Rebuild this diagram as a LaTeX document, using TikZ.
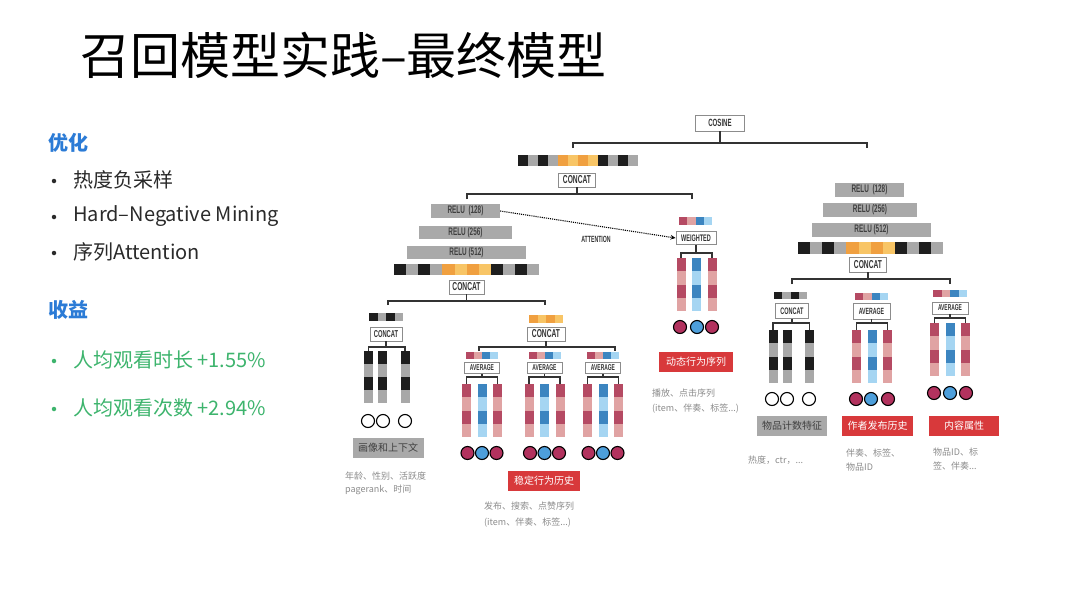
\documentclass[tikz,border=0pt]{standalone}
\usepackage{fontspec}
\setmainfont{Noto Sans CJK SC}
\newfontfamily\cjk{Noto Sans CJK SC}
\newfontfamily\condf[FakeStretch=0.58]{Liberation Sans}
\usetikzlibrary{arrows.meta,calc}
\definecolor{blk}{HTML}{1E1E1E}
\definecolor{gry}{HTML}{A8A8A8}
\definecolor{org}{HTML}{F0A040}
\definecolor{lor}{HTML}{F8C566}
\definecolor{dred}{HTML}{B54A63}
\definecolor{pnk}{HTML}{E0A3A3}
\definecolor{dblu}{HTML}{3C85C0}
\definecolor{lblu}{HTML}{A5D5F2}
\definecolor{crim}{HTML}{B2325E}
\definecolor{cblu}{HTML}{4D9FDB}
\definecolor{redlab}{HTML}{D8393B}
\definecolor{relug}{HTML}{A9A9A9}
\definecolor{ttlblue}{HTML}{2B7BD6}
\definecolor{grn}{HTML}{3DB46D}
\definecolor{txtg}{HTML}{8C8C8C}
\definecolor{bodyt}{HTML}{2A2A2A}
% horizontal segmented bar: x left, y top, seg width, height, colours
\newcommand{\segbar}[5]{\foreach \cc [count=\ii from 0] in {#5}{\fill[\cc] ({#1+\ii*#3},#2) rectangle ++(#3,#4);}}
% vertical segmented column: x centre, y top, width, seg height, colours
\newcommand{\segcol}[5]{\foreach \cc [count=\ii from 0] in {#5}{\fill[\cc] ({#1-#3/2},{#2+\ii*#4}) rectangle ++(#3,#4);}}
% bracket below a parent node: parent, y line, x left, x right, y end
\newcommand{\brkt}[5]{%
  \coordinate (#1-L) at (#3,#5); \coordinate (#1-R) at (#4,#5);
  \draw[brk] (#1-L) -- (#3,#2) -- (#4,#2) -- (#1-R);
  \draw[brk] (#1.south) -- (#1.south |- #3,#2);}
\begin{document}
\begin{tikzpicture}[x=1pt,y=-1pt,
  box/.style={draw=black!45,line width=0.8pt,fill=white,inner sep=0pt,minimum height=14pt,
     font=\condf\bfseries\fontsize{11.5}{11.5}\selectfont,text=black!80},
  relu/.style={fill=relug,inner sep=0pt,minimum height=14pt,
     font=\condf\bfseries\fontsize{11}{11}\selectfont,text=black!75},
  redl/.style={fill=redlab,text=white,inner sep=0pt,minimum width=72pt,minimum height=20pt,
     font=\cjk\fontsize{10}{10}\selectfont},
  grayl/.style={fill=relug,text=black!75,inner sep=0pt,minimum width=71pt,minimum height=20pt,
     font=\cjk\fontsize{10}{10}\selectfont},
  note/.style={text=txtg,font=\cjk\fontsize{9}{14}\selectfont,align=left,anchor=north west,inner sep=0pt},
  brk/.style={draw=black!80,line width=1.1pt},
  circr/.style={circle,draw=black,line width=1.1pt,minimum size=13pt,inner sep=0pt,fill=crim},
  circb/.style={circle,draw=black,line width=1.1pt,minimum size=13pt,inner sep=0pt,fill=cblu},
  circw/.style={circle,draw=black,line width=1.1pt,minimum size=13pt,inner sep=0pt,fill=white},
  dotb/.style={circle,fill=bodyt,inner sep=0pt,minimum size=4.5pt},
  dotg/.style={circle,fill=grn,inner sep=0pt,minimum size=4.5pt},
  lefttxt/.style={anchor=west,inner sep=0pt,font=\cjk\fontsize{20}{22}\selectfont,text=bodyt},
  head/.style={anchor=west,inner sep=0pt,font=\cjk\bfseries\fontsize{20}{22}\selectfont,text=ttlblue},
  gtxt/.style={anchor=west,inner sep=0pt,font=\cjk\fontsize{20}{22}\selectfont,text=grn}]
\useasboundingbox[fill=white] (0,0) rectangle (1080,608);

% ---------- title & left text ----------
\node[anchor=west,inner sep=0pt,font=\cjk\fontsize{50}{52}\selectfont] (title) at (80,55) {召回模型实践–最终模型};
\node[head] (h1) at (48,143) {优化};
\node[dotb] (b1) at (54,181) {};
\node[lefttxt] (t1) at (73,180) {热度负采样};
\node[dotb] (b2) at (54,217) {};
\node[lefttxt] (t2) at (73,216) {Hard–Negative Mining};
\node[dotb] (b3) at (54,253) {};
\node[lefttxt] (t3) at (73,252) {序列Attention};
\node[head] (h2) at (48,310) {收益};
\node[dotg] (b4) at (54,361) {};
\node[gtxt] (t4) at (73,360) {人均观看时长 +1.55\%};
\node[dotg] (b5) at (54,409) {};
\node[gtxt] (t5) at (73,408) {人均观看次数 +2.94\%};

% ---------- top ----------
\node[box,minimum width=49pt,minimum height=16pt,font=\condf\bfseries\fontsize{10.5}{10.5}\selectfont] (cosine) at (720,123) {COSINE};
\brkt{cosine}{143}{573}{867}{148}
\segbar{518}{155}{10}{11}{blk,gry,blk,gry,org,lor,org,lor,blk,gry,blk,gry}
\node[box,minimum width=37pt] (concat0) at (577,180) {CONCAT};
\brkt{concat0}{194}{467}{692}{199}

% ---------- left tower ----------
\node[relu,minimum width=69pt] (r128) at (465.5,211) {RELU~~(128)};
\node[relu,minimum width=93pt,minimum height=13pt] (r256) at (465.5,232.5) {RELU (256)};
\node[relu,minimum width=119pt,minimum height=13pt] (r512) at (466.5,252.5) {RELU (512)};
\segbar{394}{264}{12.1}{11}{blk,gry,blk,gry,org,lor,org,lor,blk,gry,blk,gry}
\node[box,minimum width=35pt] (concatL) at (466.5,287) {CONCAT};
\brkt{concatL}{301}{388}{545}{305}

% left-bottom: profile & context
\segbar{369}{313}{8.5}{8}{blk,gry,blk,gry}
\node[box,minimum width=32pt,font=\condf\bfseries\fontsize{10}{10}\selectfont] (concatP) at (386,334) {CONCAT};
\brkt{concatP}{347}{368.5}{405}{351}
\segcol{368.5}{351}{9}{13}{blk,gry,blk,gry}
\segcol{382.5}{351}{9}{13}{blk,gry,blk,gry}
\segcol{405}{351}{9}{13}{blk,gry,blk,gry}
\node[circw] (pc1) at (368,421) {};
\node[circw] (pc2) at (383,421) {};
\node[circw] (pc3) at (405,421) {};
\node[grayl] (lprof) at (388,448) {画像和上下文};
\node[note,font=\cjk\fontsize{9}{13}\selectfont] (nprof) at (345,472) {年龄、性别、活跃度\\pagerank、时间};

% middle-bottom: stable history
\segbar{529}{315}{8.5}{8}{org,lor,org,lor}
\node[box,minimum width=38pt] (concatS) at (546,334) {CONCAT};
\brkt{concatS}{347}{479}{615}{351}
\foreach \gx/\nm [count=\k] in {482/sa,544.5/sb,603/sc}{
  \segbar{\gx-16}{352}{8}{7}{dred,pnk,dblu,lblu}
  \node[box,minimum width=35pt,minimum height=11pt,font=\condf\bfseries\fontsize{8.5}{8.5}\selectfont] (\nm) at (\gx,368) {AVERAGE};
  \brkt{\nm}{377}{\gx-15.5}{\gx+15.5}{384}
  \segcol{\gx-15.5}{384}{9}{13.25}{dred,pnk,dred,pnk}
  \segcol{\gx}{384}{9}{13.25}{dblu,lblu,dblu,lblu}
  \segcol{\gx+15.5}{384}{9}{13.25}{dred,pnk,dred,pnk}
  \node[circr] (\nm1) at (\gx-14.5,453) {};
  \node[circb] (\nm2) at (\gx,453) {};
  \node[circr] (\nm3) at (\gx+14.5,453) {};
}
\node[redl] (lstable) at (544,480.5) {稳定行为历史};
\node[note,font=\cjk\fontsize{9}{16}\selectfont] (nstable) at (484,502) {发布、搜索、点赞序列\\(item、伴奏、标签...)};

% ---------- weighted / dynamic ----------
\segbar{679}{217}{8.25}{8}{dred,pnk,dblu,lblu}
\node[box,minimum width=40pt,minimum height=13pt,font=\condf\bfseries\fontsize{9.5}{9.5}\selectfont] (weighted) at (696,238) {WEIGHTED};
\brkt{weighted}{253}{681}{712}{258}
\segcol{681}{258}{9}{13.25}{dred,pnk,dred,pnk}
\segcol{696}{258}{9}{13.25}{dblu,lblu,dblu,lblu}
\segcol{712}{258}{9}{13.25}{dred,pnk,dred,pnk}
\node[circr] (wc1) at (680,327) {};
\node[circb] (wc2) at (697,327) {};
\node[circr] (wc3) at (712,327) {};
\node[redl,minimum width=74pt] (ldyn) at (696,362) {动态行为序列};
\node[note,font=\cjk\fontsize{9}{15}\selectfont] (ndyn) at (652,389) {播放、点击序列\\(item、伴奏、标签...)};

\draw[densely dotted,line width=1.1pt,-{Stealth[length=5pt,width=4.5pt]}] (r128.east) -- (weighted.west);
\node[inner sep=0pt,font=\condf\bfseries\fontsize{9}{9}\selectfont,text=black!80] (att) at (596,239) {ATTENTION};

% ---------- right tower ----------
\node[relu,minimum width=69pt] (q128) at (869.5,190) {RELU~~(128)};
\node[relu,minimum width=94pt] (q256) at (870,210) {RELU (256)};
\node[relu,minimum width=119pt] (q512) at (871.5,230) {RELU (512)};
\segbar{798}{242}{12.1}{12}{blk,gry,blk,gry,org,lor,org,lor,blk,gry,blk,gry}
\node[box,minimum width=37pt,minimum height=15pt] (concatR) at (868,264.5) {CONCAT};
\brkt{concatR}{279}{792}{950}{284}

% group A: item counts
\segbar{774}{292}{8.25}{7}{blk,gry,blk,gry}
\node[box,minimum width=33pt,minimum height=15pt,font=\condf\bfseries\fontsize{9.5}{9.5}\selectfont] (concatA) at (792,311) {CONCAT};
\brkt{concatA}{323}{773}{809.5}{330}
\segcol{773}{330}{9}{13.25}{blk,gry,blk,gry}
\segcol{787.5}{330}{9}{13.25}{blk,gry,blk,gry}
\segcol{809.5}{330}{9}{13.25}{blk,gry,blk,gry}
\node[circw] (ac1) at (772,399) {};
\node[circw] (ac2) at (787,399) {};
\node[circw] (ac3) at (809,399) {};
\node[grayl,minimum width=70pt] (lcnt) at (792,425.5) {物品计数特征};
\node[note] (ncnt) at (748,456) {热度，ctr，...};

% group B: author history
\segbar{855}{293}{8.25}{7}{dred,pnk,dblu,lblu}
\node[box,minimum width=37pt,minimum height=16pt,font=\condf\bfseries\fontsize{9}{9}\selectfont] (avgB) at (871.5,311) {AVERAGE};
\brkt{avgB}{323}{856.5}{887.5}{330}
\segcol{856.5}{330}{9}{13.25}{dred,pnk,dred,pnk}
\segcol{872}{330}{9}{13.25}{dblu,lblu,dblu,lblu}
\segcol{887.5}{330}{9}{13.25}{dred,pnk,dred,pnk}
\node[circr] (bc1) at (856,399) {};
\node[circb] (bc2) at (871,399) {};
\node[circr] (bc3) at (888,399) {};
\node[redl,minimum width=71pt] (lauth) at (877.5,425.5) {作者发布历史};
\node[note] (nauth) at (846,449) {伴奏、标签、\\物品ID};

% group C: content attributes
\segbar{933}{290}{8.5}{7}{dred,pnk,dblu,lblu}
\node[box,minimum width=36pt,minimum height=12pt,font=\condf\bfseries\fontsize{8.5}{8.5}\selectfont] (avgC) at (950,308) {AVERAGE};
\brkt{avgC}{318}{934.5}{965.5}{323}
\segcol{934.5}{323}{9}{13.25}{dred,pnk,dred,pnk}
\segcol{950}{323}{9}{13.25}{dblu,lblu,dblu,lblu}
\segcol{965.5}{323}{9}{13.25}{dred,pnk,dred,pnk}
\node[circr] (cc1) at (934,393) {};
\node[circb] (cc2) at (950,393) {};
\node[circr] (cc3) at (966,393) {};
\node[redl,minimum width=70pt] (lcont) at (964,426) {内容属性};
\node[note] (ncont) at (933,448) {物品ID、标\\签、伴奏...};
\end{tikzpicture}
\end{document}
